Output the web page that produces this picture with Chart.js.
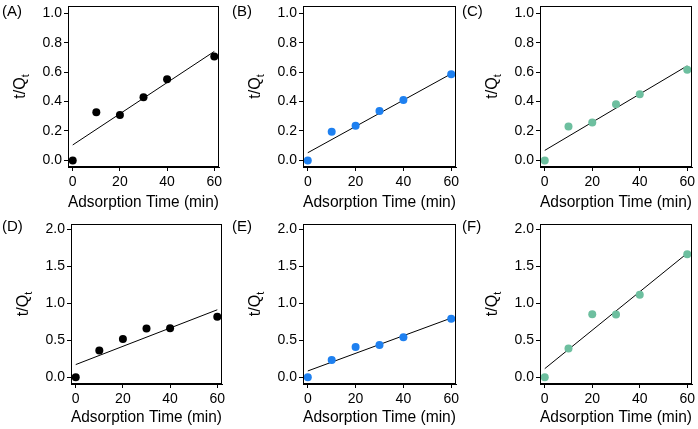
<!DOCTYPE html>
<html><head><meta charset="utf-8">
<script src="https://cdn.jsdelivr.net/npm/chart.js@4.4.0/dist/chart.umd.min.js"></script>
<style>
html,body{margin:0;padding:0;background:#fff;}
#wrap{position:relative;width:698px;height:429px;overflow:hidden;background:#fff;}
#wrap canvas{position:absolute;}
</style></head><body><div id="wrap"></div>
<script>
// ---- data ----
const times = [0, 10, 20, 30, 40, 60];
const fitTimes = [0, 60];
const seriesA = [0, 0.327, 0.309, 0.43, 0.552, 0.707];
const seriesB = [0, 0.195, 0.236, 0.336, 0.411, 0.586];
const seriesC = [0, 0.23, 0.257, 0.382, 0.45, 0.616];
const seriesD = [0, 0.361, 0.519, 0.659, 0.664, 0.817];
const seriesE = [0, 0.235, 0.41, 0.438, 0.542, 0.79];
const seriesF = [0, 0.388, 0.853, 0.849, 1.115, 1.661];
const fitA = [0.105, 0.741];
const fitB = [0.052, 0.589];
const fitC = [0.068, 0.643];
const fitD = [0.172, 0.912];
const fitE = [0.086, 0.80];
const fitF = [0.117, 1.675];
const xTicks = [0, 20, 40, 60];
const yTicksTop = [0, 0.2, 0.4, 0.6, 0.8, 1.0];
const yTicksBottom = [0, 0.5, 1.0, 1.5, 2.0];
const panelLabels = ['(A)', '(B)', '(C)', '(D)', '(E)', '(F)'];
const xTitle = 'Adsorption Time (min)';
const yTitleMain = 't/Q';
const yTitleSub = 't';

// ---- styles / layout ----
const BLACK = '#000000', BLUE = '#1e80f0', TEAL = '#6dbf9f';
const FONT = "'Liberation Sans', Arial, Helvetica, sans-serif";
Chart.defaults.font.family = FONT;
Chart.defaults.color = '#000';

const panels = [
  {series: seriesA, fit: fitA, color: BLACK, yt: yTicksTop,    ymin: -0.045, ymax: 1.05, box: [0, 0, 230, 214],   L: 68, R: 219, T: 6,  B: 167},
  {series: seriesB, fit: fitB, color: BLUE,  yt: yTicksTop,    ymin: -0.045, ymax: 1.05, box: [230, 0, 230, 214], L: 73, R: 226, T: 6,  B: 167},
  {series: seriesC, fit: fitC, color: TEAL,  yt: yTicksTop,    ymin: -0.045, ymax: 1.05, box: [460, 0, 238, 214], L: 80, R: 232, T: 6,  B: 167},
  {series: seriesD, fit: fitD, color: BLACK, yt: yTicksBottom, ymin: -0.09,  ymax: 2.07, box: [0, 214, 230, 215],   L: 71, R: 222, T: 10, B: 170},
  {series: seriesE, fit: fitE, color: BLUE,  yt: yTicksBottom, ymin: -0.09,  ymax: 2.07, box: [230, 214, 230, 215], L: 73, R: 227, T: 10, B: 170},
  {series: seriesF, fit: fitF, color: TEAL,  yt: yTicksBottom, ymin: -0.09,  ymax: 2.07, box: [460, 214, 238, 215], L: 80, R: 232, T: 10, B: 170}
];

const decor = {
  id: 'decor',
  afterDraw(chart, args, opts) {
    const {ctx, chartArea: a} = chart;
    ctx.save();
    ctx.strokeStyle = '#000';
    ctx.lineWidth = 1;
    ctx.strokeRect(Math.round(a.left) + 0.5, Math.round(a.top) + 0.5, Math.round(a.right - a.left) - 1, Math.round(a.bottom - a.top) - 1);
    // y title with subscript
    ctx.fillStyle = '#000';
    ctx.textBaseline = 'middle';
    ctx.textAlign = 'left';
    const mainFont = '16px ' + FONT, subFont = '11px ' + FONT;
    ctx.font = mainFont; const w1 = ctx.measureText(yTitleMain).width;
    ctx.font = subFont; const w2 = ctx.measureText(yTitleSub).width;
    ctx.translate(a.left - 47, (a.top + a.bottom) / 2);
    ctx.rotate(-Math.PI / 2);
    const x0 = -(w1 + w2) / 2;
    ctx.font = mainFont; ctx.fillText(yTitleMain, x0, 0);
    ctx.font = subFont; ctx.fillText(yTitleSub, x0 + w1, 5);
    ctx.restore();
    // panel label
    ctx.save();
    ctx.fillStyle = '#000';
    ctx.font = '15px ' + FONT;
    ctx.textBaseline = 'top';
    ctx.textAlign = 'left';
    ctx.fillText(opts.label, 2, opts.labelTop);
    ctx.restore();
  }
};

const wrap = document.getElementById('wrap');
panels.forEach((p, i) => {
  const [bx, by, bw, bh] = p.box;
  const cv = document.createElement('canvas');
  cv.style.left = bx + 'px'; cv.style.top = by + 'px';
  cv.style.width = bw + 'px'; cv.style.height = bh + 'px';
  cv.width = bw; cv.height = bh;
  wrap.appendChild(cv);
  new Chart(cv, {
    type: 'scatter',
    data: {
      datasets: [
        {type: 'scatter', data: times.map((t, k) => ({x: t, y: p.series[k]})), backgroundColor: p.color, borderColor: p.color, pointRadius: 4, borderWidth: 0, order: 1},
        {type: 'line', data: fitTimes.map((t, k) => ({x: t, y: p.fit[k]})), borderColor: '#000', borderWidth: 1, pointRadius: 0, fill: false, order: 2}
      ]
    },
    plugins: [decor],
    options: {
      responsive: false,
      animation: false,
      devicePixelRatio: 1,
      layout: {padding: {left: 0, top: p.T, right: bw - p.R, bottom: 0}},
      plugins: {legend: {display: false}, tooltip: {enabled: false}, decor: {label: panelLabels[i], labelTop: i < 3 ? 4 : 5}},
      scales: {
        x: {
          type: 'linear', min: -2, max: 62,
          afterBuildTicks: s => { s.ticks = xTicks.map(v => ({value: v})); },
          afterFit: s => { s.height = bh - p.B; s.paddingLeft = 0; s.paddingRight = 0; },
          ticks: {font: {size: 14}, color: '#000', padding: 3, maxRotation: 0, callback: v => String(v)},
          grid: {display: true, drawOnChartArea: false, drawTicks: true, tickLength: 4, color: '#000', tickColor: '#000', lineWidth: 1},
          border: {display: true, color: '#000', width: 1},
          title: {display: true, text: xTitle, font: {size: 16}, color: '#000', padding: {top: 0, bottom: 2}}
        },
        y: {
          type: 'linear', min: p.ymin, max: p.ymax,
          afterBuildTicks: s => { s.ticks = p.yt.map(v => ({value: v})); },
          afterFit: s => { s.width = p.L; s.paddingTop = 0; s.paddingBottom = 0; },
          ticks: {font: {size: 14}, color: '#000', padding: 2, callback: v => Number(v).toFixed(1)},
          grid: {display: true, drawOnChartArea: false, drawTicks: true, tickLength: 4, color: '#000', tickColor: '#000', lineWidth: 1},
          border: {display: true, color: '#000', width: 1}
        }
      }
    }
  });
});
</script>
</body></html>
